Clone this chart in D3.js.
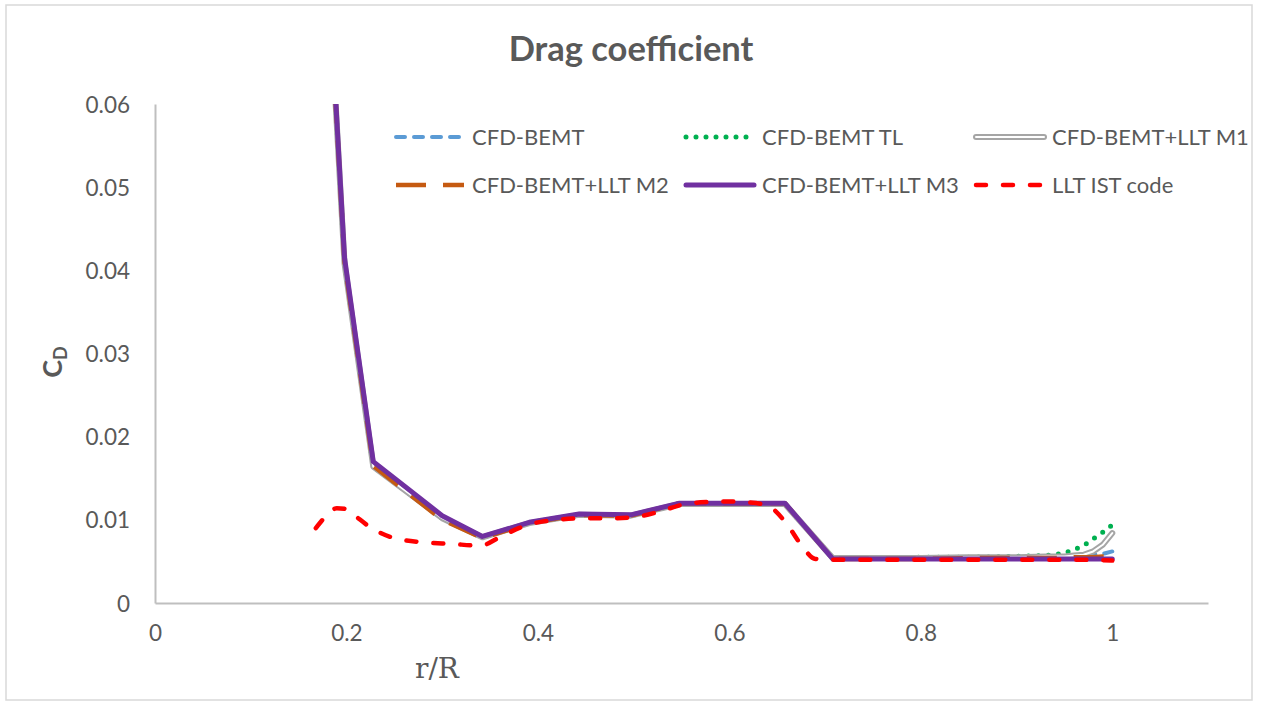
<!DOCTYPE html>
<html>
<head>
<meta charset="utf-8">
<script src="https://cdn.jsdelivr.net/npm/d3@7"></script>
<style>
  html, body { margin: 0; padding: 0; background: #fff; }
  svg { display: block; }
</style>
</head>
<body>
<svg id="chart" width="1261" height="705"></svg>
<script>
// Radial stations r/R of the CFD-based runs
const rCFD = [0.18, 0.198, 0.228, 0.30, 0.342, 0.391, 0.443, 0.497, 0.548, 0.605, 0.658, 0.708,
              0.75, 0.80, 0.85, 0.90, 0.93, 0.95, 0.96, 0.97, 0.98, 0.99, 1.0];

// Drag coefficient per run
const cdBEMT   = [0.0780, 0.0408, 0.0164, 0.0102, 0.0079, 0.0096, 0.0106, 0.0105, 0.0119, 0.0119, 0.0119, 0.0054,
                  0.0054, 0.0054, 0.0054, 0.0055, 0.0055, 0.0056, 0.0056, 0.0057, 0.0058, 0.0059, 0.0062];
const cdBEMTTL = [0.0780, 0.0408, 0.0164, 0.0102, 0.0079, 0.0096, 0.0106, 0.0105, 0.0119, 0.0119, 0.0119, 0.0054,
                  0.0054, 0.0055, 0.0055, 0.0056, 0.0057, 0.0060, 0.0064, 0.0069, 0.0077, 0.0085, 0.0094];
const cdM1     = [0.0780, 0.0408, 0.0164, 0.0102, 0.0079, 0.0096, 0.0106, 0.0105, 0.0119, 0.0119, 0.0119, 0.0054,
                  0.0054, 0.0054, 0.0055, 0.0055, 0.0056, 0.0056, 0.0057, 0.0058, 0.0062, 0.0070, 0.0084];
const cdM2     = [0.0782, 0.0410, 0.0165, 0.0100, 0.0078, 0.0096, 0.0106, 0.0105, 0.0120, 0.0120, 0.0120, 0.0053,
                  0.0053, 0.0053, 0.0054, 0.0054, 0.0054, 0.0054, 0.0055, 0.0055, 0.0055, 0.0056, 0.0056];
const cdM3     = [0.0785, 0.0415, 0.0170, 0.0105, 0.0080, 0.0097, 0.0107, 0.0106, 0.0120, 0.0120, 0.0120, 0.0053,
                  0.0053, 0.0053, 0.0053, 0.0053, 0.0053, 0.0053, 0.0053, 0.0053, 0.0053, 0.0053, 0.0053];

// Lifting-line (IST code) solution
const rLLT  = [0.168, 0.18, 0.19, 0.20, 0.21, 0.225, 0.25, 0.28, 0.31, 0.34, 0.36, 0.38, 0.40, 0.42, 0.45,
               0.48, 0.51, 0.53, 0.55, 0.57, 0.60, 0.62, 0.64, 0.66, 0.675, 0.69, 0.72, 0.76, 0.80, 0.84,
               0.88, 0.92, 0.96, 1.0];
const cdLLT = [0.0090, 0.0106, 0.0114, 0.0113, 0.0104, 0.0091, 0.0078, 0.0073, 0.0071, 0.0069, 0.0079, 0.0090,
               0.0097, 0.0100, 0.0102, 0.0102, 0.0105, 0.0111, 0.0118, 0.0121, 0.0122, 0.0121, 0.0117, 0.0095,
               0.0070, 0.0053, 0.0052, 0.0052, 0.0052, 0.0052, 0.0052, 0.0052, 0.0052, 0.0051];

const seriesNames = ["CFD-BEMT", "CFD-BEMT TL", "CFD-BEMT+LLT M1", "CFD-BEMT+LLT M2", "CFD-BEMT+LLT M3", "LLT IST code"];
const xTicks = [0, 0.2, 0.4, 0.6, 0.8, 1];
const yTicks = [0, 0.01, 0.02, 0.03, 0.04, 0.05, 0.06];

const chartTitle = "Drag coefficient";
const xTitle = "r/R";

// ---- line styles ----
const styles = [
  { color: "#5B9BD5", width: 4,   dash: "9,9",   cap: "round" },
  { color: "#00B050", width: 5,   dash: "0,10",  cap: "round" },
  { color: "#A5A5A5", width: 6,   dash: null,    cap: "round", double: true },
  { color: "#C55A11", width: 4.5, dash: "30,17", cap: "butt" },
  { color: "#7030A0", width: 5,   dash: null,    cap: "round" },
  { color: "#FF0000", width: 4.5, dash: "10,17", cap: "round" }
];

const series = [
  { x: rCFD, y: cdBEMT,   curve: d3.curveLinear },
  { x: rCFD, y: cdBEMTTL, curve: d3.curveLinear },
  { x: rCFD, y: cdM1,     curve: d3.curveLinear },
  { x: rCFD, y: cdM2,     curve: d3.curveLinear },
  { x: rCFD, y: cdM3,     curve: d3.curveLinear },
  { x: rLLT, y: cdLLT,    curve: d3.curveMonotoneX }
];

const svg = d3.select("#chart");
const textColor = "#595959";
const fontSans = "Lato, 'Open Sans', sans-serif";

// chart frame
svg.append("rect")
  .attr("x", 6).attr("y", 5).attr("width", 1246).attr("height", 695)
  .attr("fill", "#fff").attr("stroke", "#D9D9D9").attr("stroke-width", 1.5);

const plot = { left: 155, right: 1208, top: 104, bottom: 603 };

const x = d3.scaleLinear().domain([0, 1.1]).range([plot.left, plot.right]);
const y = d3.scaleLinear().domain([0, 0.06]).range([plot.bottom, plot.top]);

// title
svg.append("text")
  .attr("x", 631).attr("y", 61)
  .attr("text-anchor", "middle")
  .attr("font-family", fontSans).attr("font-weight", "bold")
  .attr("font-size", 34.5).attr("fill", textColor)
  .text(chartTitle);

// axes
const yAxis = svg.append("g")
  .attr("transform", `translate(${plot.left},0)`)
  .call(d3.axisLeft(y).tickValues(yTicks).tickSize(0).tickPadding(25)
        .tickFormat(d => d === 0 ? "0" : d3.format(".2f")(d)));
const xAxis = svg.append("g")
  .attr("transform", `translate(0,${plot.bottom})`)
  .call(d3.axisBottom(x).tickValues(xTicks).tickSize(0).tickPadding(22)
        .tickFormat(d3.format("~g")));

[xAxis, yAxis].forEach(g => {
  g.select(".domain").attr("stroke", "#BFBFBF").attr("stroke-width", 2);
  g.selectAll("text")
    .attr("font-family", fontSans).attr("font-size", 22.5).attr("fill", textColor);
});
yAxis.selectAll("text").attr("dy", "0.36em");

// axis titles
svg.append("text")
  .attr("x", 437).attr("y", 678)
  .attr("text-anchor", "middle")
  .attr("font-family", "'DejaVu Serif', 'Liberation Serif', serif")
  .attr("font-size", 28).attr("fill", textColor)
  .text(xTitle);

const yTitle = svg.append("text")
  .attr("transform", "translate(62,362) rotate(-90)")
  .attr("text-anchor", "middle")
  .attr("font-family", fontSans).attr("font-weight", "bold")
  .attr("font-size", 27).attr("fill", textColor);
yTitle.append("tspan").text("C");
yTitle.append("tspan").attr("font-size", 18).attr("dy", 5).text("D");

// clip area for data lines
svg.append("clipPath").attr("id", "plotClip")
  .append("rect")
  .attr("x", plot.left).attr("y", plot.top)
  .attr("width", plot.right - plot.left).attr("height", plot.bottom - plot.top);

const lines = svg.append("g").attr("clip-path", "url(#plotClip)");

function drawStroke(g, pathD, st) {
  const p = g.append("path")
    .attr("d", pathD)
    .attr("fill", "none")
    .attr("stroke", st.color)
    .attr("stroke-width", st.width)
    .attr("stroke-linecap", st.cap)
    .attr("stroke-linejoin", "round");
  if (st.dash) p.attr("stroke-dasharray", st.dash);
  if (st.double) {
    g.append("path")
      .attr("d", pathD)
      .attr("fill", "none")
      .attr("stroke", "#FFFFFF")
      .attr("stroke-width", 2)
      .attr("stroke-linecap", "round")
      .attr("stroke-linejoin", "round");
  }
}

series.forEach((s, i) => {
  const pts = s.x.map((xv, j) => [xv, s.y[j]]);
  const gen = d3.line().x(d => x(d[0])).y(d => y(d[1])).curve(s.curve);
  drawStroke(lines, gen(pts), styles[i]);
});

// legend: three columns, two rows
const legendCols = [396, 686, 976];
const legendRows = [137, 185];
const sampleLen = 68;
const legend = svg.append("g");
seriesNames.forEach((name, i) => {
  const cx = legendCols[i % 3];
  const cy = legendRows[Math.floor(i / 3)];
  const g = legend.append("g");
  drawStroke(g, `M${cx},${cy}H${cx + sampleLen}`, styles[i]);
  g.append("text")
    .attr("x", cx + sampleLen + 8).attr("y", cy)
    .attr("dy", "0.36em")
    .attr("font-family", fontSans).attr("font-size", 22).attr("fill", textColor)
    .text(name);
});
</script>
</body>
</html>
